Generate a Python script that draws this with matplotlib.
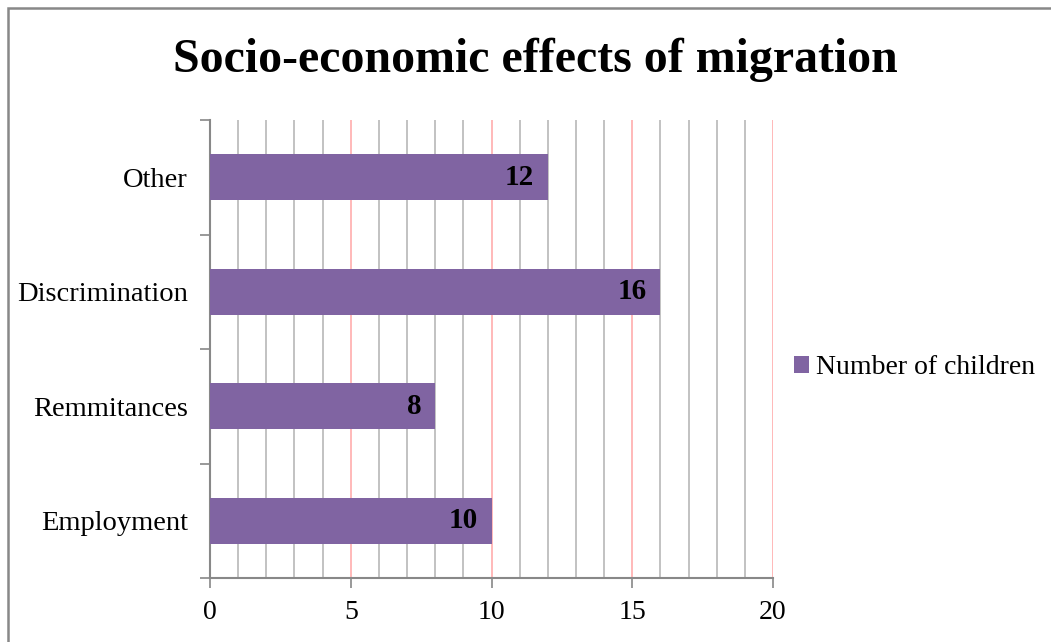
import numpy as np
from matplotlib import pyplot as plt
from matplotlib.patches import Rectangle

plt.rcParams['font.family'] = ['Liberation Serif', 'DejaVu Serif']

categories = ['Employment', 'Remmitances', 'Discrimination', 'Other']
values = [10, 8, 16, 12]
series_name = 'Number of children'
bar_color = '#8064A2'

fig = plt.figure(figsize=(10.51, 6.42), dpi=100)
ax = fig.add_axes([210/1051, 1 - 578/642, 563/1051, 458/642])

y = np.arange(len(categories))
bars = ax.barh(y, values, height=0.4, color=bar_color, label=series_name, zorder=3)

# value labels at the end of each bar
for yi, v in zip(y, values):
    ax.text(v - 0.5, yi, str(v), ha='right', va='center', fontsize=21,
            fontweight='bold', zorder=4)

ax.set_xlim(0, 20)
ax.set_ylim(-0.5, len(categories) - 0.5)

# gridlines: every 1 grey, every 5 pink
for gx in range(1, 21):
    col = '#FFB3B3' if gx % 5 == 0 else '#BDBDBD'
    ax.axvline(gx, color=col, lw=1.3, zorder=1)

ax.set_xticks([0, 5, 10, 15, 20])
ax.set_xticklabels(['0', '5', '10', '15', '20'], fontsize=20)
ax.tick_params(axis='x', length=7, width=1.2, color='#888888', pad=9)

ax.set_yticks(np.arange(-0.5, len(categories), 1))
ax.set_yticklabels([])
ax.set_yticks(y, minor=True)
ax.set_yticklabels(categories, minor=True, fontsize=20.5)
ax.tick_params(axis='y', which='major', length=7, width=1.2, color='#888888')
ax.tick_params(axis='y', which='minor', length=0, pad=16)

for side in ['top', 'right']:
    ax.spines[side].set_visible(False)
for side in ['left', 'bottom']:
    ax.spines[side].set_color('#888888')
    ax.spines[side].set_linewidth(1.5)

fig.text(535/1051, 1 - 60/642, 'Socio-economic effects of migration',
         ha='center', va='center', fontsize=34.5, fontweight='bold')

leg = fig.legend(handles=[bars], labels=[series_name], loc='center left',
                 bbox_to_anchor=(783/1051, 1 - 368/642), frameon=False,
                 fontsize=20, handlelength=0.55, handleheight=0.55,
                 handletextpad=0.25, borderaxespad=0)

# chart border
fig.patches.append(Rectangle((8/1051, -0.1), 1.2, 1 - 8/642 + 0.1,
                             transform=fig.transFigure, fill=False,
                             edgecolor='#888888', lw=1.8, clip_on=False))

fig.savefig('out.png', dpi=100)
